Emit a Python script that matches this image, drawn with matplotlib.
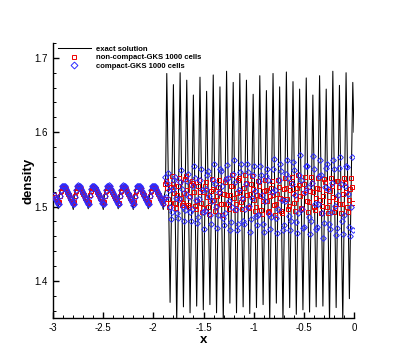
import numpy as np
import matplotlib
matplotlib.use("Agg")
import matplotlib.pyplot as plt
from matplotlib.ticker import FixedLocator, MultipleLocator

plt.rcParams['font.family'] = ['Liberation Sans', 'DejaVu Sans']

# ---------------- exact solution ----------------
exact_x = [
    -3.000, -2.978, -2.963,
    -2.948, -2.936, -2.918, -2.898, -2.868, -2.838, -2.813,
    -2.798, -2.786, -2.768, -2.748, -2.718, -2.688, -2.663,
    -2.649, -2.637, -2.619, -2.599, -2.569, -2.539, -2.514,
    -2.499, -2.487, -2.469, -2.449, -2.419, -2.389, -2.364,
    -2.350, -2.338, -2.320, -2.300, -2.270, -2.240, -2.215,
    -2.200, -2.188, -2.170, -2.150, -2.120, -2.090, -2.065,
    -2.050, -2.038, -2.020, -2.000, -1.970, -1.940, -1.915,
    -1.901, -1.889, -1.879,
    -1.866, -1.833, -1.800, -1.767, -1.733, -1.700, -1.667, -1.634,
    -1.601, -1.568, -1.535, -1.502, -1.469, -1.436, -1.403, -1.370,
    -1.336, -1.303, -1.270, -1.237, -1.204, -1.171, -1.138, -1.105,
    -1.072, -1.039, -1.005, -0.972, -0.939, -0.906, -0.873, -0.840,
    -0.807, -0.774, -0.741, -0.708, -0.674, -0.641, -0.608, -0.575,
    -0.542, -0.509, -0.476, -0.443, -0.410, -0.377, -0.343, -0.310,
    -0.277, -0.244, -0.211, -0.178, -0.145, -0.112, -0.079, -0.046,
    -0.012, 0.000,
]
exact_rho = [
    1.516, 1.511, 1.505,
    1.497, 1.516, 1.527, 1.529, 1.523, 1.514, 1.505,
    1.496, 1.516, 1.527, 1.529, 1.523, 1.514, 1.505,
    1.497, 1.516, 1.527, 1.529, 1.523, 1.514, 1.505,
    1.496, 1.516, 1.527, 1.529, 1.523, 1.514, 1.505,
    1.497, 1.516, 1.527, 1.529, 1.523, 1.514, 1.505,
    1.496, 1.516, 1.527, 1.529, 1.523, 1.514, 1.505,
    1.497, 1.516, 1.527, 1.529, 1.523, 1.514, 1.505,
    1.496, 1.516, 1.522,
    1.679, 1.371, 1.664, 1.345, 1.680, 1.365, 1.670, 1.357,
    1.650, 1.366, 1.674, 1.361, 1.655, 1.368, 1.677, 1.357,
    1.661, 1.345, 1.682, 1.370, 1.667, 1.357, 1.679, 1.365,
    1.670, 1.356, 1.651, 1.364, 1.676, 1.368, 1.656, 1.345,
    1.679, 1.370, 1.661, 1.345, 1.681, 1.364, 1.668, 1.355,
    1.658, 1.361, 1.673, 1.358, 1.650, 1.365, 1.676, 1.366,
    1.658, 1.345, 1.682, 1.364, 1.663, 1.345, 1.680, 1.376,
    1.667, 1.600,
]

# ---------------- cell values, 1000-cell runs (cells in [-3, 0]) ----------------
cell_x0 = -2.995
cell_dx = 0.01

compact_rho = [
    # smooth region left of the shock
    1.515, 1.512, 1.509, 1.506, 1.503,
    1.504, 1.514, 1.522, 1.527, 1.528, 1.528, 1.527, 1.524, 1.521, 1.518, 1.515, 1.512, 1.509, 1.506, 1.503,
    1.503, 1.513, 1.522, 1.527, 1.529, 1.528, 1.527, 1.524, 1.521, 1.518, 1.515, 1.512, 1.509, 1.506, 1.503,
    1.504, 1.514, 1.523, 1.527, 1.528, 1.528, 1.526, 1.524, 1.521, 1.518, 1.515, 1.512, 1.509, 1.505, 1.503,
    1.503, 1.514, 1.522, 1.527, 1.528, 1.529, 1.527, 1.524, 1.521, 1.518, 1.515, 1.511, 1.509, 1.506, 1.503,
    1.504, 1.514, 1.522, 1.528, 1.529, 1.528, 1.527, 1.524, 1.520, 1.518, 1.515, 1.512, 1.509, 1.506, 1.502,
    1.503, 1.513, 1.522, 1.527, 1.528, 1.528, 1.527, 1.525, 1.521, 1.518, 1.514, 1.512, 1.509, 1.506, 1.503,
    1.504, 1.514, 1.522, 1.527, 1.528, 1.528, 1.527, 1.524, 1.521, 1.518, 1.515, 1.512, 1.509, 1.506, 1.503,
    # shock
    1.512, 1.540,
    # post-shock
    1.513, 1.531, 1.545, 1.522, 1.499, 1.483, 1.492, 1.524, 1.536, 1.540,
    1.511, 1.491, 1.485, 1.510, 1.533, 1.549, 1.524, 1.500, 1.480, 1.495,
    1.517, 1.534, 1.544, 1.513, 1.492,
    1.481, 1.497, 1.527, 1.555, 1.539, 1.509, 1.478, 1.486, 1.510, 1.536,
    1.550, 1.522, 1.492, 1.470, 1.494, 1.524, 1.543, 1.548, 1.514, 1.488,
    1.477, 1.507, 1.536, 1.557, 1.530, 1.500, 1.471, 1.489,
    1.520, 1.550, 1.548, 1.528, 1.484, 1.475, 1.491, 1.537, 1.556, 1.539,
    1.508, 1.468, 1.479, 1.500, 1.544, 1.562, 1.533, 1.497, 1.469, 1.477,
    1.522, 1.547, 1.557, 1.512, 1.480, 1.476, 1.496, 1.530, 1.557, 1.547,
    1.501, 1.466, 1.483, 1.512, 1.542, 1.555, 1.521, 1.487, 1.475, 1.488,
    1.534, 1.555, 1.542, 1.516, 1.476, 1.466, 1.508, 1.541, 1.551, 1.536,
    1.490, 1.470, 1.486,
    1.519, 1.551, 1.564, 1.522, 1.484, 1.464, 1.496, 1.536, 1.557, 1.548,
    1.509, 1.468, 1.475, 1.507, 1.544, 1.562, 1.539, 1.487, 1.469, 1.481,
    1.530, 1.560, 1.549, 1.515, 1.479, 1.465, 1.491, 1.542, 1.569, 1.536,
    1.497, 1.471, 1.473, 1.519, 1.555, 1.554, 1.526, 1.486, 1.463, 1.481,
    1.532, 1.568, 1.551, 1.503, 1.470, 1.473, 1.503, 1.541, 1.563, 1.542,
    1.491, 1.458, 1.478, 1.526, 1.552, 1.557, 1.524, 1.476, 1.470, 1.493,
    1.532, 1.563, 1.551, 1.501, 1.462, 1.471, 1.515, 1.552, 1.567, 1.530,
    1.480, 1.463, 1.489, 1.528, 1.555, 1.553, 1.517, 1.472, 1.460, 1.499,
    1.566, 1.468,
]

noncompact_rho = [
    1.515, 1.513, 1.510, 1.508, 1.506,
    1.506, 1.514, 1.521, 1.525, 1.526, 1.526, 1.525, 1.523, 1.520, 1.517, 1.515, 1.512, 1.510, 1.508, 1.505,
    1.506, 1.514, 1.521, 1.525, 1.527, 1.526, 1.525, 1.523, 1.520, 1.517, 1.515, 1.512, 1.510, 1.507, 1.505,
    1.506, 1.515, 1.521, 1.525, 1.526, 1.526, 1.524, 1.523, 1.520, 1.517, 1.515, 1.512, 1.510, 1.508, 1.505,
    1.506, 1.514, 1.521, 1.525, 1.526, 1.526, 1.525, 1.522, 1.520, 1.517, 1.514, 1.512, 1.510, 1.508, 1.505,
    1.505, 1.514, 1.521, 1.525, 1.526, 1.526, 1.525, 1.523, 1.520, 1.517, 1.515, 1.512, 1.510, 1.508, 1.505,
    1.506, 1.514, 1.521, 1.526, 1.526, 1.526, 1.525, 1.523, 1.520, 1.517, 1.515, 1.512, 1.510, 1.508, 1.505,
    1.506, 1.514, 1.521, 1.525, 1.526, 1.526, 1.525, 1.523, 1.520, 1.517, 1.515, 1.512, 1.510, 1.508, 1.505,
    1.510, 1.530,
    1.535, 1.525, 1.510, 1.499, 1.505, 1.526, 1.541, 1.530, 1.518, 1.505,
    1.498, 1.515, 1.528, 1.539, 1.533, 1.511, 1.502, 1.505, 1.518, 1.537,
    1.541, 1.522, 1.502, 1.499, 1.514, 1.529, 1.535, 1.532, 1.519, 1.501,
    1.496, 1.507, 1.528, 1.536, 1.520, 1.505, 1.493, 1.498, 1.519, 1.528,
    1.533, 1.513, 1.500, 1.490, 1.507, 1.521, 1.537, 1.524, 1.509, 1.494,
    1.501, 1.514, 1.526, 1.536, 1.518, 1.503, 1.489, 1.503, 1.517, 1.533,
    1.537, 1.515, 1.503, 1.497, 1.515, 1.528, 1.542, 1.527, 1.512, 1.495,
    1.504, 1.518, 1.536, 1.539, 1.520, 1.506, 1.496, 1.510, 1.525, 1.543,
    1.531, 1.516, 1.499, 1.498, 1.517, 1.530, 1.541, 1.524, 1.509, 1.494,
    1.500, 1.515, 1.535, 1.528, 1.514, 1.495, 1.490, 1.507, 1.521, 1.536,
    1.522, 1.507, 1.492, 1.494, 1.514, 1.525, 1.534, 1.516, 1.502, 1.488,
    1.503, 1.517, 1.536, 1.526, 1.511, 1.494, 1.491, 1.510, 1.523, 1.539,
    1.525, 1.510, 1.497, 1.501, 1.522, 1.532, 1.540, 1.518, 1.505, 1.494,
    1.510, 1.525, 1.543, 1.529, 1.514, 1.498, 1.497, 1.518, 1.530, 1.540,
    1.522, 1.507, 1.493, 1.506, 1.521, 1.540, 1.532, 1.519, 1.500, 1.495,
    1.511, 1.525, 1.539, 1.524, 1.509, 1.491, 1.501, 1.514, 1.537, 1.533,
    1.522, 1.500, 1.491, 1.507, 1.521, 1.539, 1.528, 1.513, 1.492, 1.498,
    1.510, 1.535, 1.534, 1.526, 1.504, 1.491, 1.503, 1.517, 1.538, 1.531,
    1.519, 1.499, 1.492, 1.509, 1.523, 1.539, 1.526, 1.505,
]

legend_labels = ["exact solution", "non-compact-GKS 1000 cells", "compact-GKS 1000 cells"]
xtick_values = [-3, -2.5, -2, -1.5, -1, -0.5, 0]
xtick_labels = ["-3", "-2.5", "-2", "-1.5", "-1", "-0.5", "0"]
ytick_values = [1.4, 1.5, 1.6, 1.7]
ytick_labels = ["1.4", "1.5", "1.6", "1.7"]

x_compact = cell_x0 + cell_dx * np.arange(len(compact_rho))
x_noncompact = cell_x0 + cell_dx * np.arange(len(noncompact_rho))

fig = plt.figure(figsize=(4.03, 3.58), dpi=100)
fig.patch.set_facecolor("white")
ax = fig.add_axes([53 / 403, 1 - 318 / 358, 301 / 403, 275 / 358])

ax.plot(exact_x, exact_rho, color="black", lw=0.75, label=legend_labels[0], zorder=2)
ax.plot(x_noncompact, noncompact_rho, ls="none", marker="s", ms=2.7, mfc="none",
        mec="#ee0000", mew=0.7, label=legend_labels[1], zorder=3)
ax.plot(x_compact, compact_rho, ls="none", marker="D", ms=2.9, mfc="none",
        mec="#2a2aff", mew=0.7, label=legend_labels[2], zorder=4)

ax.set_xlim(-3, 0)
ax.set_ylim(1.35, 1.72)

for s in ("top", "right"):
    ax.spines[s].set_visible(False)
for s in ("left", "bottom"):
    ax.spines[s].set_linewidth(1.0)

ax.xaxis.set_major_locator(FixedLocator(xtick_values))
ax.set_xticklabels(xtick_labels)
ax.xaxis.set_minor_locator(MultipleLocator(0.1))
ax.yaxis.set_major_locator(FixedLocator(ytick_values))
ax.set_yticklabels(ytick_labels)
ax.yaxis.set_minor_locator(MultipleLocator(0.02))

ax.tick_params(which="major", direction="in", length=4.3, width=1.0, labelsize=7, pad=3.5)
ax.tick_params(which="minor", direction="in", length=2.0, width=0.7)
ax.tick_params(top=False, right=False, which="both")

ax.set_xlabel("x", fontsize=9.5, fontweight="bold", labelpad=1)
ax.set_ylabel("density", fontsize=9.5, fontweight="bold", labelpad=0)

ax.legend(loc="upper left", bbox_to_anchor=(58 / 403, 1 - 45.5 / 358),
          bbox_transform=fig.transFigure, frameon=False,
          prop={"weight": "bold", "size": 5.5}, handlelength=4.3,
          handletextpad=0.7, labelspacing=0.15, borderpad=0, borderaxespad=0,
          numpoints=1, markerscale=1.2)

fig.savefig("out.png", dpi=100)
